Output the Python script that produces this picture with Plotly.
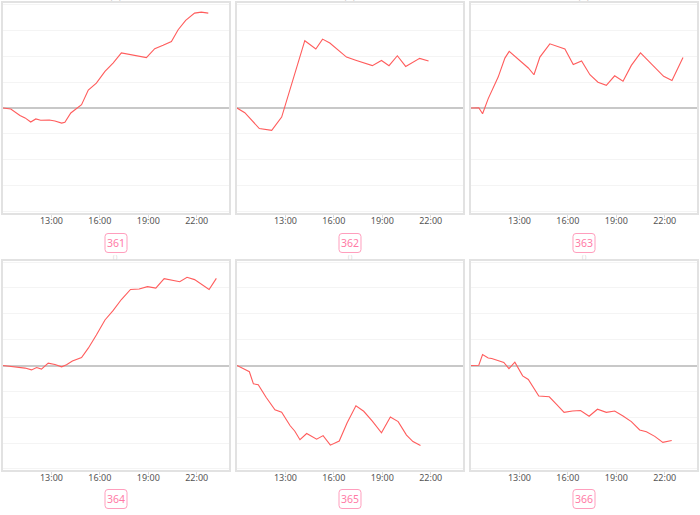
import plotly.graph_objects as go

DAY = "2024-01-01 "
NEXT = "2024-01-02 "

labels = ["361", "362", "363", "364", "365", "366"]
tick_hours = ["13:00", "16:00", "19:00", "22:00"]

t361 = ["10:00","10:29","11:03","11:22","11:43","12:02","12:20","12:52","13:13","13:38","13:50","14:12","14:52","15:17","15:47","16:19","16:49","17:20","18:53","19:24","19:55","20:26","20:51","21:19","21:52","22:17","22:43"]
v361 = [0,-0.04,-0.29,-0.38,-0.54,-0.42,-0.47,-0.46,-0.5,-0.58,-0.55,-0.19,0.13,0.69,0.96,1.41,1.73,2.12,1.94,2.28,2.41,2.56,3.01,3.37,3.65,3.69,3.65]

t362 = ["10:00","10:29","11:23","12:09","12:46","13:48","14:12","14:53","15:18","15:45","16:47","17:24","18:23","18:57","19:25","19:56","20:27","21:19","21:52"]
v362 = [0,-0.18,-0.79,-0.86,-0.35,1.71,2.59,2.27,2.65,2.5,1.96,1.83,1.63,1.83,1.63,2.01,1.6,1.91,1.81]

t363 = ["10:00","10:29","10:43","11:04","11:41","12:06","12:22","12:56","13:33","13:54","14:16","14:53","15:49","16:20","16:51","17:22","17:52","18:23","18:54","19:25","19:56","20:30","20:58","21:23","21:56","22:27","23:08"]
v363 = [0,0.01,-0.22,0.36,1.19,1.92,2.18,1.86,1.54,1.28,1.96,2.47,2.27,1.67,1.81,1.28,0.99,0.87,1.24,1.03,1.64,2.12,1.83,1.6,1.22,1.06,1.94]

t364 = ["10:00","10:38","10:57","11:22","11:46","12:05","12:23","12:48","13:13","13:38","13:56","14:18","14:52","15:17","15:47","16:19","16:49","17:20","17:54","18:26","18:57","19:28","19:59","20:57","21:24","21:52","22:46","23:13"]
v364 = [0,-0.05,-0.09,-0.1,-0.17,-0.08,-0.14,0.09,0.04,-0.05,0.03,0.17,0.31,0.67,1.18,1.76,2.12,2.55,2.94,2.96,3.05,2.99,3.36,3.24,3.41,3.32,2.94,3.37]

t365 = ["10:00","10:23","10:46","11:01","11:19","11:48","12:21","12:46","13:17","13:35","13:54","14:19","14:56","15:20","15:47","16:20","16:49","17:22","17:51","18:23","18:57","19:30","19:59","20:30","20:54","21:22"]
v365 = [0,-0.12,-0.24,-0.71,-0.74,-1.23,-1.71,-1.81,-2.32,-2.54,-2.87,-2.63,-2.85,-2.71,-3.08,-2.92,-2.22,-1.56,-1.77,-2.15,-2.6,-1.99,-2.17,-2.69,-2.94,-3.09]

t366 = ["10:00","10:29","10:43","11:04","11:17","11:41","12:02","12:21","12:43","13:12","13:33","14:12","14:51","15:18","15:46","16:17","16:47","17:19","17:50","18:23","18:54","19:25","19:56","20:27","20:52","21:23","21:53","22:26"]
v366 = [0,0.01,0.42,0.29,0.27,0.18,0.12,-0.12,0.13,-0.4,-0.54,-1.18,-1.21,-1.5,-1.81,-1.76,-1.74,-1.96,-1.69,-1.81,-1.76,-1.95,-2.17,-2.49,-2.56,-2.74,-2.97,-2.9]

times = [t361, t362, t363, t364, t365, t366]
values = [v361, v362, v363, v364, v365, v366]

W, H = 700, 515
# panel pixel boxes (left, right, top, bottom)
boxes = [(3, 229, 3, 213), (237, 463, 3, 213), (471, 697, 3, 213),
         (3, 229, 261, 470), (237, 463, 261, 470), (471, 697, 261, 470)]
label_y = [243, 243, 243, 499, 499, 499]

LINE = "#ff5c5c"
fig = go.Figure()
layout = dict(width=W, height=H, margin=dict(l=0, r=0, t=0, b=0),
              paper_bgcolor="white", plot_bgcolor="white", showlegend=False,
              font=dict(family="Noto Sans, sans-serif"))
annotations = []
shapes = []


def P(px, py):
    return f"{px / W:.5f},{1 - py / H:.5f}"


for i in range(6):
    l, r, t, b = boxes[i]
    xs = [DAY + s for s in times[i]]
    n = "" if i == 0 else str(i + 1)
    fig.add_trace(go.Scatter(x=xs, y=values[i], mode="lines",
                             line=dict(color=LINE, width=1.1),
                             xaxis="x" + n, yaxis="y" + n, hoverinfo="skip"))
    layout["xaxis" + n] = dict(
        domain=[l / W, r / W], anchor="y" + n, type="date",
        range=[DAY + "10:00", NEXT + "00:00"],
        tickvals=[DAY + h for h in tick_hours], ticktext=tick_hours,
        showgrid=False, zeroline=False, ticks="outside", ticklen=3,
        tickcolor="#dddddd", tickfont=dict(size=9, color="#555555"),
        ticklabelstandoff=-5,
        showline=True, mirror=True, linecolor="#e2e2e2", linewidth=1.5,
        fixedrange=True)
    layout["yaxis" + n] = dict(
        domain=[1 - b / H, 1 - t / H], anchor="x" + n,
        range=[-4.04, 4.04], dtick=1, showticklabels=False,
        showgrid=True, gridcolor="#f4f4f4", gridwidth=1,
        zeroline=True, zerolinecolor="#c8c8c8", zerolinewidth=1.5,
        showline=True, mirror=True, linecolor="#e2e2e2", linewidth=1.5,
        ticks="", fixedrange=True)
    cx = (l + r) / 2
    # faint, mostly hidden subtitle above each panel
    if i < 3:
        annotations.append(dict(xref="paper", yref="paper", x=cx / W,
                                y=1 - (-3) / H, xanchor="center", yanchor="middle",
                                showarrow=False,
                                text="(%)", font=dict(size=8, color="#c4c4c4")))
    else:
        annotations.append(dict(xref="paper", yref="paper", x=cx / W,
                                y=1 - 257 / H, xanchor="center", yanchor="middle",
                                showarrow=False,
                                text="( )", font=dict(size=5, color="#cccccc")))
    # rounded label box
    bw, bh = 22, 19
    x0, x1 = cx - bw / 2, cx + bw / 2
    y0, y1 = label_y[i] - bh / 2, label_y[i] + bh / 2
    rr = 3
    path = (f"M {P(x0 + rr, y0)} L {P(x1 - rr, y0)} Q {P(x1, y0)} {P(x1, y0 + rr)} "
            f"L {P(x1, y1 - rr)} Q {P(x1, y1)} {P(x1 - rr, y1)} L {P(x0 + rr, y1)} "
            f"Q {P(x0, y1)} {P(x0, y1 - rr)} L {P(x0, y0 + rr)} Q {P(x0, y0)} {P(x0 + rr, y0)} Z")
    shapes.append(dict(type="path", xref="paper", yref="paper", path=path,
                       line=dict(color="#ff9ebd", width=1), fillcolor="white",
                       layer="above"))
    annotations.append(dict(xref="paper", yref="paper", x=cx / W,
                            y=1 - label_y[i] / H, xanchor="center", yanchor="middle",
                            showarrow=False,
                            text=labels[i], font=dict(size=10.5, color="#ff7aa6")))
layout["annotations"] = annotations
layout["shapes"] = shapes
fig.update_layout(**layout)
fig.write_html("out.html", config={"displayModeBar": False},
               post_script="document.body.style.margin='0';document.body.style.overflow='hidden';")
